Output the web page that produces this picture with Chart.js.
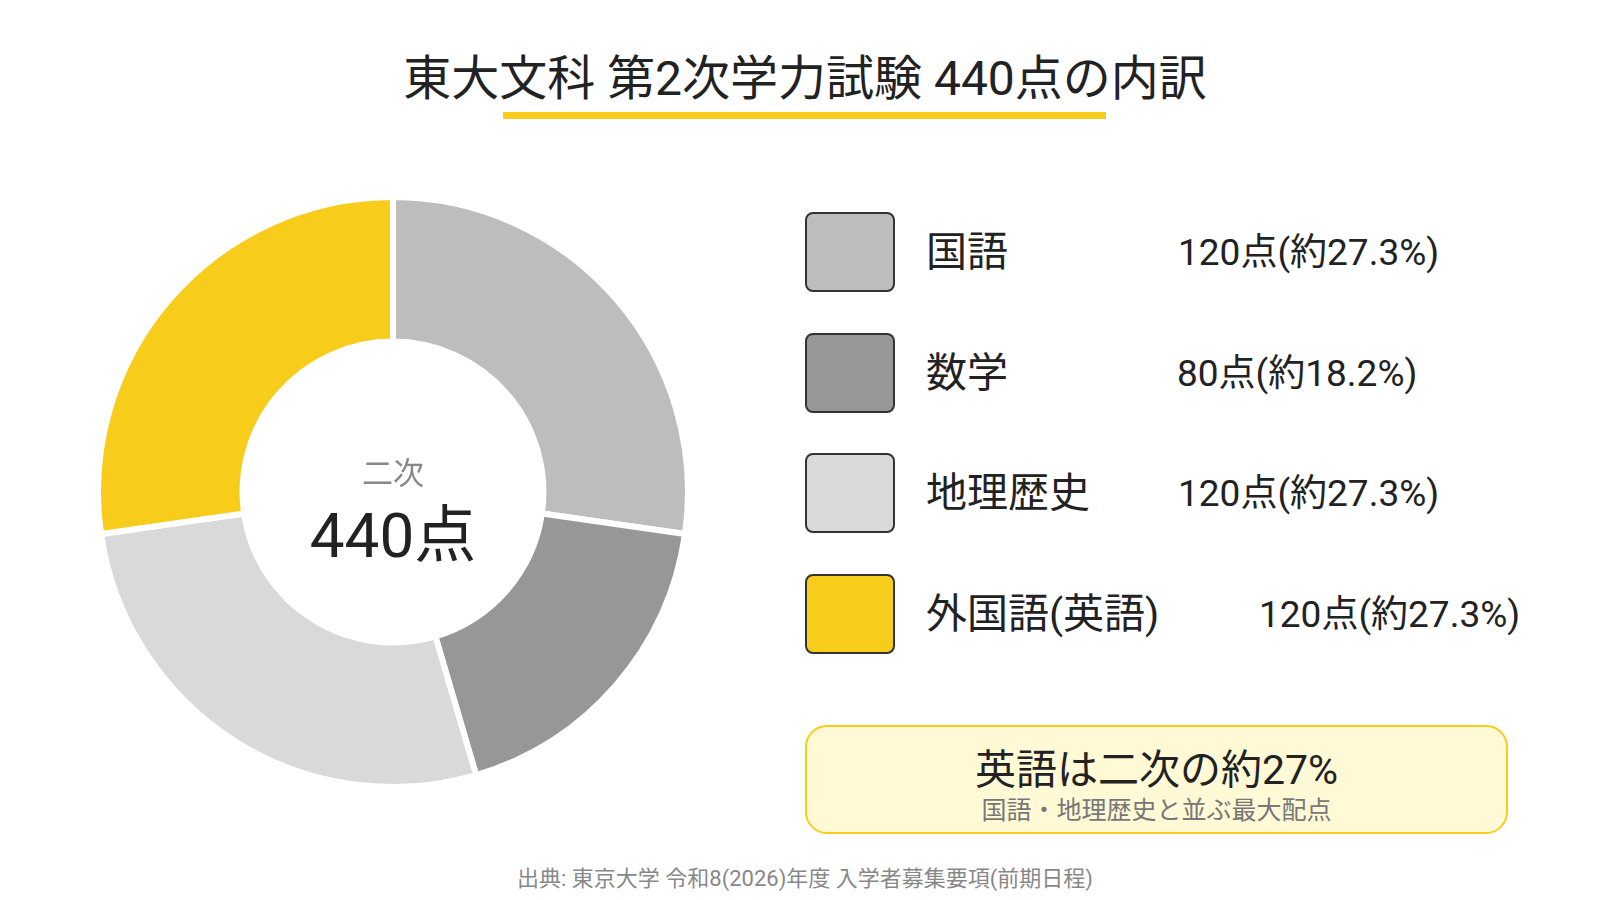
<!DOCTYPE html>
<html><head><meta charset="utf-8">
<script src="https://cdn.jsdelivr.net/npm/chart.js@4"></script>
<style>
body{margin:0;width:1600px;height:900px;background:#fff;font-family:Roboto,"Noto Sans CJK JP",sans-serif;color:#222;position:relative;overflow:hidden}
.abs{position:absolute;white-space:nowrap}
#title{left:0;width:1610px;text-align:center;top:46px;font-size:48px;line-height:66px}
#ul{left:503px;width:603px;top:112px;height:7px;background:#F8CC1B}
#cw{left:95px;top:194px;width:596px;height:596px}
.box{width:86px;height:76px;border:2px solid #333;border-radius:8px}
.lab{font-size:41px;line-height:52px}
.val{font-size:37px;line-height:52px}
#call{left:805px;top:725px;width:699px;height:105px;background:#FFF9D6;border:2px solid #F8CC1B;border-radius:22px}
</style></head><body>
<div class="abs" id="title">東大文科 第2次学力試験 440点の内訳</div>
<div class="abs" id="ul"></div>
<div class="abs" id="cw"><canvas id="c" width="596" height="596"></canvas></div>
<div class="abs" style="left:95px;width:596px;text-align:center;top:448px;font-size:31px;color:#888">二次</div>
<div class="abs" style="left:95px;width:596px;text-align:center;top:495px;font-size:62px;line-height:82px">440点</div>
<div id="legend"></div>
<div class="abs" id="call">
<div style="text-align:center;font-size:41px;margin-top:18px;line-height:50px">英語は二次の約27%</div>
<div style="text-align:center;font-size:25px;color:#777;line-height:32px">国語・地理歴史と並ぶ最大配点</div>
</div>
<div class="abs" style="left:0;width:1610px;text-align:center;top:860px;font-size:22px;color:#888">出典: 東京大学 令和8(2026)年度 入学者募集要項(前期日程)</div>
<script>
const categories=["国語","数学","地理歴史","外国語(英語)"];
const values=[120,80,120,120];
const colors=["#BDBDBD","#979797","#D9D9D9","#F8CC1B"];
const valueLeft=[1178,1177,1178,1259];
const total=values.reduce((a,b)=>a+b,0);
const lg=document.getElementById('legend');
categories.forEach((c,i)=>{
  const top=212+i*120.5;
  lg.innerHTML+=`<div class="abs box" style="left:805px;top:${top}px;background:${colors[i]}"></div>
  <div class="abs lab" style="left:926px;top:${top+14}px">${c}</div>
  <div class="abs val" style="left:${valueLeft[i]}px;top:${top+15}px">${values[i]}点(約${(values[i]/total*100).toFixed(1)}%)</div>`;
});
new Chart(document.getElementById('c'),{type:'doughnut',
data:{labels:categories,datasets:[{data:values,backgroundColor:colors,borderColor:'#fff',borderWidth:6}]},
options:{responsive:false,animation:false,cutout:'51%',layout:{padding:0},
plugins:{legend:{display:false},tooltip:{enabled:false}}}});
</script>
</body></html>
